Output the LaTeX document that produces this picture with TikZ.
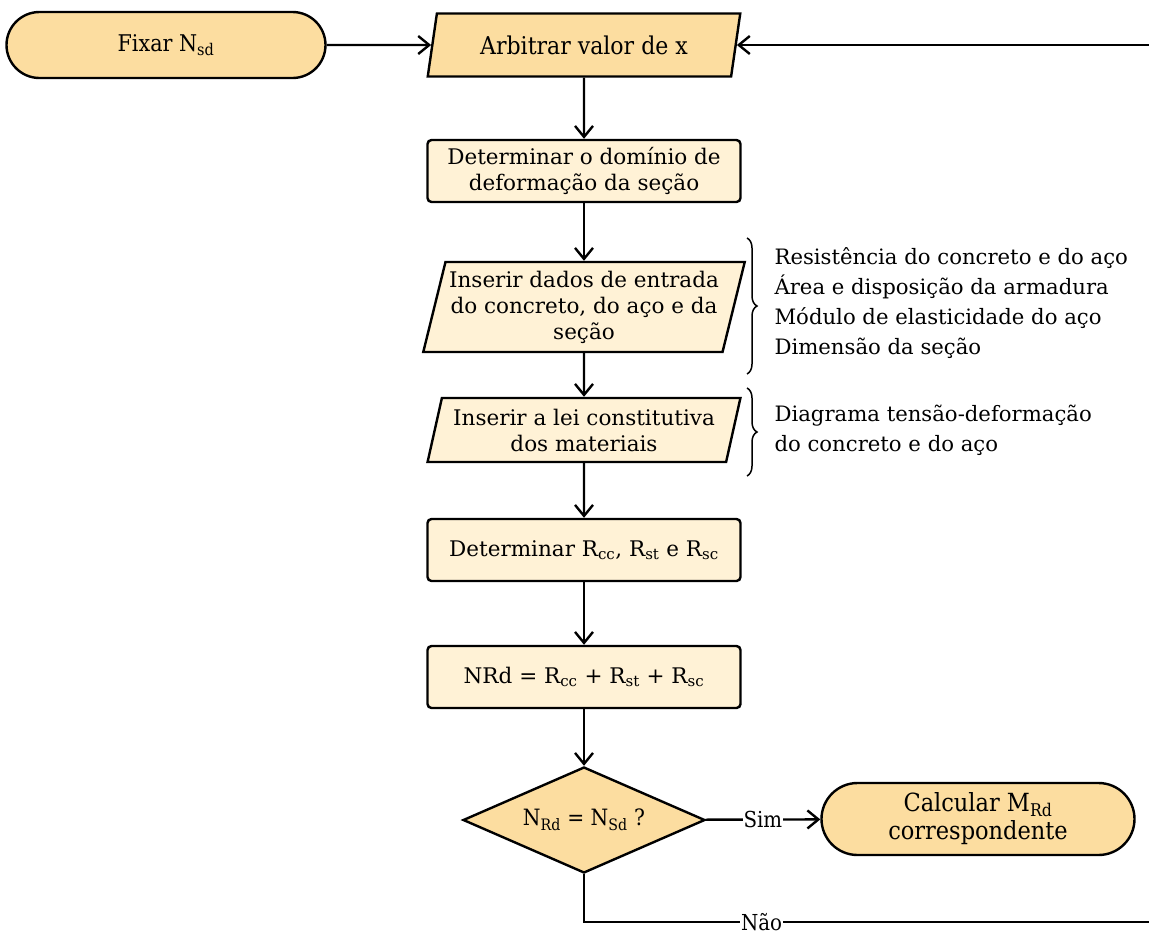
\documentclass[tikz,border=0pt]{standalone}
\usepackage{fontspec}
\setmainfont{DejaVu Serif}
\newfontfamily\condfont{DejaVu Serif Condensed}
\usetikzlibrary{shapes.geometric,shapes.misc,arrows.meta,decorations.pathreplacing}
\definecolor{darkfill}{RGB}{252,221,160}
\definecolor{lightfill}{RGB}{255,242,214}
\begin{document}
\begin{tikzpicture}[x=1pt,y=-1pt,
  base/.style={draw=black, line width=2.4pt, align=center, inner sep=2pt},
  body/.style={font=\fontsize{21.5}{26}\selectfont},
  term/.style={base, rounded rectangle, fill=darkfill},
  io/.style={base, trapezium, trapezium left angle=74, trapezium right angle=106,
    trapezium stretches=true},
  proc/.style={base, body, rectangle, rounded corners=4pt, fill=lightfill,
    minimum width=313pt, minimum height=62pt},
  decision/.style={base, diamond, aspect=2.3, inner sep=0pt, fill=darkfill,
    minimum width=242pt, minimum height=106pt,
    font=\condfont\fontsize{22.5}{26}\selectfont},
  arr/.style={line width=2.4pt, -{Straight Barb[length=11pt,width=18pt,line width=2.4pt]}},
  lbl/.style={font=\condfont\fontsize{22}{24}\selectfont, fill=white, inner sep=1pt},
  note/.style={align=left, anchor=west, font=\fontsize{21.2}{30.2}\selectfont},
  curly/.style={line width=1.5pt, decorate, decoration={brace, amplitude=10pt}}
]
\useasboundingbox (0,0) rectangle (1149,935);
\clip (0,0) rectangle (1149,935);

% main column
\node[term, minimum width=323pt, minimum height=66pt, font=\condfont\fontsize{23}{27}\selectfont] (fix) at (166,45) {Fixar N\textsubscript{sd}};
\node[io, fill=darkfill, minimum width=313pt, minimum height=63pt, font=\condfont\fontsize{24.5}{28}\selectfont] (arb) at (584,45) {Arbitrar valor de x};
\node[proc] (dom) at (584,171) {Determinar o domínio de\\deformação da seção};
\node[io, body, fill=lightfill, minimum width=322pt, minimum height=90pt] (dad) at (584,307) {Inserir dados de entrada\\do concreto, do aço e da\\seção};
\node[io, body, fill=lightfill, minimum width=313pt, minimum height=64pt] (lei) at (584,430) {Inserir a lei constitutiva\\dos materiais};
\node[proc] (res) at (584,550) {Determinar R\textsubscript{cc}, R\textsubscript{st} e R\textsubscript{sc}};
\node[proc] (nrd) at (584,677) {NRd = R\textsubscript{cc} + R\textsubscript{st} + R\textsubscript{sc}};
\node[decision] (dec) at (584,820) {N\textsubscript{Rd} = N\textsubscript{Sd} ?};
\node[term, minimum width=317pt, minimum height=72pt, font=\condfont\fontsize{25}{28}\selectfont] (calc) at (978,819) {Calcular M\textsubscript{Rd}\\correspondente};

% side notes
\draw[curly] (747,238) -- (747,374);
\node[note] (n1) at (771,303) {Resistência do concreto e do aço\\Área e disposição da armadura\\Módulo de elasticidade do aço\\Dimensão da seção};
\draw[curly] (747,388) -- (747,476);
\node[note] (n2) at (771,430) {Diagrama tensão-deformação\\do concreto e do aço};

% connectors
\coordinate (loop) at (1180,922);
\draw[arr] (fix) -- (arb);
\draw[arr] (arb) -- (dom);
\draw[arr] (dom) -- (dad);
\draw[arr] (dad) -- (lei);
\draw[arr] (lei) -- (res);
\draw[arr] (res) -- (nrd);
\draw[arr] (nrd) -- (dec);
\draw[arr] (dec) -- node[lbl] (sim) {Sim} (calc);
\draw[arr] (dec.south) |- node[lbl, pos=0.649] (nao) {Não} (loop) |- (arb);
\end{tikzpicture}
\end{document}
